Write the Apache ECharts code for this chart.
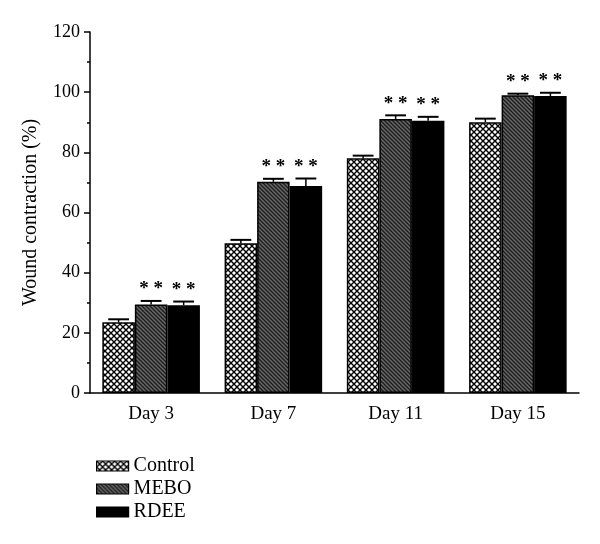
<!DOCTYPE html>
<html>
<head>
<meta charset="utf-8">
<script src="https://cdn.jsdelivr.net/npm/echarts@6/dist/echarts.min.js"></script>
<style>html,body{margin:0;padding:0;background:#fff}#c{width:600px;height:544px}</style>
</head>
<body>
<div id="c"></div>
<script>
// ---- data ----
const categories = ['Day 3', 'Day 7', 'Day 11', 'Day 15'];
const seriesNames = ['Control', 'MEBO', 'RDEE'];
const controlValues = [23.5, 49.8, 78.0, 90.0];
const controlErrors = [1.0, 1.1, 0.9, 1.2];
const meboValues = [29.4, 70.2, 91.1, 99.0];
const meboErrors = [1.2, 1.0, 1.2, 0.5];
const rdeeValues = [29.2, 68.8, 90.5, 98.7];
const rdeeErrors = [1.2, 2.5, 1.3, 1.1];
const controlSig = ['', '', '', ''];
const meboSig = ['**', '**', '**', '**'];
const rdeeSig = ['**', '**', '**', '**'];
const yTicks = [0, 20, 40, 60, 80, 100, 120];

// ---- patterns (style only) ----
function makePattern(size, draw) {
  const c = document.createElement('canvas');
  c.width = size; c.height = size;
  const ctx = c.getContext('2d');
  draw(ctx, size);
  return { image: c, repeat: 'repeat' };
}
const crossHatch = makePattern(6, (ctx, s) => {
  ctx.fillStyle = '#fff'; ctx.fillRect(0, 0, s, s);
  ctx.strokeStyle = '#000'; ctx.lineWidth = 1.4;
  ctx.beginPath();
  ctx.moveTo(-1, -1); ctx.lineTo(s + 1, s + 1);
  ctx.moveTo(-1, s + 1); ctx.lineTo(s + 1, -1);
  ctx.stroke();
});
const diagHatch = makePattern(4, (ctx, s) => {
  ctx.fillStyle = '#6a6a6a'; ctx.fillRect(0, 0, s, s);
  ctx.strokeStyle = '#1c1c1c'; ctx.lineWidth = 1.4;
  ctx.beginPath();
  ctx.moveTo(-1, -1); ctx.lineTo(s + 1, s + 1);
  ctx.moveTo(-1, s - 1); ctx.lineTo(1, s + 1);
  ctx.moveTo(s - 1, -1); ctx.lineTo(s + 1, 1);
  ctx.stroke();
});
const fills = [crossHatch, diagHatch, '#000'];

const valuesList = [controlValues, meboValues, rdeeValues];
const errorsList = [controlErrors, meboErrors, rdeeErrors];
const sigList = [controlSig, meboSig, rdeeSig];

const FONT = '"Liberation Serif", "DejaVu Serif", serif';
const BAR_RATIO = 0.266;

const series = [];
seriesNames.forEach((name, i) => {
  series.push({
    name: name,
    type: 'bar',
    barWidth: (BAR_RATIO * 100) + '%',
    barGap: '0%',
    data: valuesList[i],
    itemStyle: { color: fills[i], borderColor: '#000', borderWidth: 1.5 },
    z: 2
  });
});
seriesNames.forEach((name, i) => {
  series.push({
    name: name + ' err',
    type: 'custom',
    z: 3,
    data: categories.map((c, k) => [k, valuesList[i][k], errorsList[i][k]]),
    renderItem: function (params, api) {
      const k = api.value(0);
      const v = api.value(1);
      const e = api.value(2);
      const sig = sigList[i][k];
      const band = api.size([1, 0])[0];
      const bw = band * BAR_RATIO;
      const base = api.coord([k, v]);
      const top = api.coord([k, v + e]);
      const x = base[0] + (i - 1) * bw;
      const capHalf = bw * 0.32;
      const children = [
        { type: 'line', shape: { x1: x, y1: base[1], x2: x, y2: top[1] }, style: { stroke: '#000', lineWidth: 1.5 } },
        { type: 'line', shape: { x1: x - capHalf, y1: top[1], x2: x + capHalf, y2: top[1] }, style: { stroke: '#000', lineWidth: 2 } }
      ];
      if (sig) {
        children.push({
          type: 'text',
          style: { text: sig.split('').join(' '), x: x, y: top[1] - 2, align: 'center', verticalAlign: 'bottom',
                   font: 'bold 19px ' + FONT, fill: '#000' }
        });
      }
      return { type: 'group', children: children };
    }
  });
});

const chart = echarts.init(document.getElementById('c'), null, { renderer: 'canvas' });
chart.setOption({
  animation: false,
  backgroundColor: '#fff',
  grid: { left: 90, right: 21, top: 32, bottom: 151, containLabel: false },
  legend: {
    data: seriesNames,
    orient: 'vertical',
    left: 91,
    top: 451,
    itemWidth: 32,
    itemHeight: 10,
    itemGap: 3,
    icon: 'rect',
    textStyle: { fontFamily: FONT, fontSize: 20, color: '#000' },
    itemStyle: { borderColor: '#000', borderWidth: 1.2 }
  },
  xAxis: {
    type: 'category',
    data: categories,
    axisLine: { lineStyle: { color: '#000', width: 1.5 } },
    axisTick: { show: false },
    axisLabel: { fontFamily: FONT, fontSize: 19, color: '#000', margin: 12 }
  },
  yAxis: {
    type: 'value',
    min: yTicks[0],
    max: yTicks[yTicks.length - 1],
    interval: yTicks[1] - yTicks[0],
    name: 'Wound contraction (%)',
    nameLocation: 'middle',
    nameGap: 49,
    nameTextStyle: { fontFamily: FONT, fontSize: 20, color: '#000' },
    axisLine: { show: true, lineStyle: { color: '#000', width: 1.5 } },
    axisTick: { show: true, length: 6, lineStyle: { color: '#000', width: 1.5 } },
    minorTick: { show: true, splitNumber: 2, length: 3, lineStyle: { color: '#000', width: 1.5 } },
    splitLine: { show: false },
    axisLabel: { fontFamily: FONT, fontSize: 18, color: '#000', margin: 10 }
  },
  series: series
});
</script>
</body>
</html>
